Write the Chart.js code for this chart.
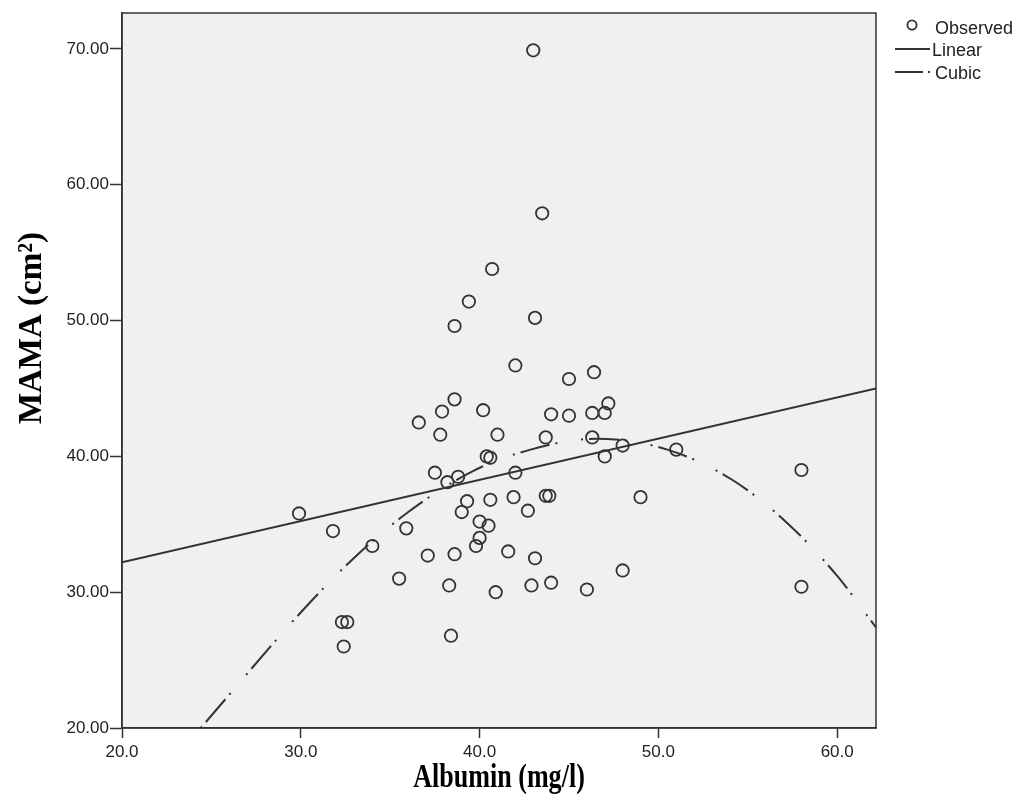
<!DOCTYPE html>
<html>
<head>
<meta charset="utf-8">
<title>MAMA vs Albumin</title>
<script src="https://cdn.jsdelivr.net/npm/chart.js@4/dist/chart.umd.min.js"></script>
<style>
  html, body { margin: 0; padding: 0; background: #ffffff; }
  #wrap { width: 1027px; height: 808px; }
</style>
</head>
<body>
<div id="wrap"><canvas id="chart" width="1027" height="808"></canvas></div>
<script>
// Observed albumin (mg/l) and MAMA (cm²) values
const albumin = [
  43.0, 43.5, 40.7, 39.4, 38.6, 43.1, 42.0, 45.0, 46.4, 47.2,
  47.0, 46.3, 45.0, 44.0, 40.2, 38.6, 37.9, 36.6, 37.8, 41.0,
  43.7, 46.3, 51.0, 48.0, 47.0, 40.4, 40.6, 37.5, 38.8, 38.2,
  43.7, 43.9, 40.6, 41.9, 42.0, 49.0, 39.3, 39.0, 42.7, 40.0,
  40.5, 40.0, 39.8, 29.9, 31.8, 35.9, 34.0, 37.1, 38.6, 41.6,
  43.1, 35.5, 38.3, 40.9, 42.9, 44.0, 46.0, 48.0, 58.0, 58.0,
  32.3, 32.6, 32.4, 38.4
];
const mama = [
  69.9, 57.9, 53.8, 51.4, 49.6, 50.2, 46.7, 45.7, 46.2, 43.9,
  43.2, 43.2, 43.0, 43.1, 43.4, 44.2, 43.3, 42.5, 41.6, 41.6,
  41.4, 41.4, 40.5, 40.8, 40.0, 40.0, 39.9, 38.8, 38.5, 38.1,
  37.1, 37.1, 36.8, 37.0, 38.8, 37.0, 36.7, 35.9, 36.0, 35.2,
  34.9, 34.0, 33.4, 35.8, 34.5, 34.7, 33.4, 32.7, 32.8, 33.0,
  32.5, 31.0, 30.5, 30.0, 30.5, 30.7, 30.2, 31.6, 39.0, 30.4,
  27.8, 27.8, 26.0, 26.8
];

// Linear fit, read at both ends of the x range
const linearX = [20.0, 62.17];
const linearY = [32.2, 45.0];

// Cubic fit
const cubicX = [24.4, 30.2, 32.8, 35.9, 39.6, 42.85, 46.5, 50.5, 54.1, 57.2, 60.0, 62.17];
const cubicY = [20.0, 28.8, 32.3, 35.8, 38.9, 40.5, 41.3, 40.5, 38.3, 35.1, 31.2, 27.4];

// Axis ranges and tick labels
const xRange = [20, 62.17];
const yRange = [20, 72.65];
const xTickValues = [20, 30, 40, 50, 60];
const yTickValues = [20, 30, 40, 50, 60, 70];

const legendLabels = ['Observed', 'Linear', 'Cubic'];
const xTitle = 'Albumin (mg/l)';
const yTitle = 'MAMA (cm\u00B2)';

const ink = '#333333';
const sansFamily = '"Liberation Sans", Arial, sans-serif';
const pair = (xs, ys) => xs.map((x, i) => ({ x: x, y: ys[i] }));
const cubicDash = [2, 6, 30, 6, 2, 24];

const frame = {
  id: 'frame',
  beforeDraw(chart) {
    const { ctx, chartArea: a } = chart;
    ctx.save();
    ctx.fillStyle = '#f0f0f0';
    ctx.fillRect(a.left, a.top, a.right - a.left, a.bottom - a.top);
    ctx.restore();
  },
  afterDraw(chart) {
    const { ctx, chartArea: a } = chart;
    ctx.save();
    // box around the plot
    ctx.strokeStyle = ink;
    ctx.lineWidth = 1.5;
    ctx.strokeRect(a.left, a.top, a.right - a.left, a.bottom - a.top);

    // legend
    ctx.font = '18px ' + sansFamily;
    ctx.fillStyle = '#222';
    ctx.textBaseline = 'alphabetic';
    ctx.textAlign = 'left';
    ctx.lineWidth = 1.8;
    ctx.strokeStyle = '#333';
    ctx.beginPath();
    ctx.arc(912, 25, 4.6, 0, Math.PI * 2);
    ctx.stroke();
    ctx.fillText(legendLabels[0], 935, 34);

    ctx.strokeStyle = ink;
    ctx.lineWidth = 2;
    ctx.beginPath();
    ctx.moveTo(895, 49);
    ctx.lineTo(930, 49);
    ctx.stroke();
    ctx.fillText(legendLabels[1], 932, 56);

    ctx.setLineDash([28, 5, 2, 40]);
    ctx.beginPath();
    ctx.moveTo(895, 72);
    ctx.lineTo(932, 72);
    ctx.stroke();
    ctx.setLineDash([]);
    ctx.fillText(legendLabels[2], 935, 79);

    // axis titles
    ctx.fillStyle = '#000';
    ctx.font = 'bold 33px "Liberation Serif", "Times New Roman", serif';
    ctx.textAlign = 'center';
    ctx.textBaseline = 'alphabetic';
    ctx.save();
    ctx.translate((a.left + a.right) / 2, 787);
    ctx.scale(0.79, 1);
    ctx.fillText(xTitle, 0, 0);
    ctx.restore();

    ctx.save();
    ctx.translate(41, 328);
    ctx.rotate(-Math.PI / 2);
    ctx.fillText(yTitle, 0, 0);
    ctx.restore();
    ctx.restore();
  }
};

const keepTicks = (values) => (scale) => {
  scale.ticks = values.map(v => ({ value: v }));
};

new Chart(document.getElementById('chart'), {
  type: 'scatter',
  data: {
    datasets: [
      {
        label: legendLabels[0],
        data: pair(albumin, mama),
        pointStyle: 'circle',
        pointRadius: 6.2,
        pointHoverRadius: 6.2,
        backgroundColor: 'rgba(0,0,0,0)',
        borderColor: '#333',
        borderWidth: 1.8,
        showLine: false
      },
      {
        label: legendLabels[1],
        data: pair(linearX, linearY),
        showLine: true,
        borderColor: ink,
        borderWidth: 2,
        pointRadius: 0,
        fill: false
      },
      {
        label: legendLabels[2],
        data: pair(cubicX, cubicY),
        showLine: true,
        borderColor: ink,
        borderWidth: 2,
        borderDash: cubicDash,
        cubicInterpolationMode: 'monotone',
        pointRadius: 0,
        fill: false
      }
    ]
  },
  options: {
    responsive: false,
    animation: false,
    events: [],
    layout: { padding: { left: 0, top: 13, right: 151, bottom: 0 } },
    plugins: { legend: { display: false }, tooltip: { enabled: false } },
    scales: {
      x: {
        type: 'linear',
        min: xRange[0],
        max: xRange[1],
        afterBuildTicks: keepTicks(xTickValues),
        afterFit(scale) { scale.height = 80; },
        border: { display: true, color: ink, width: 1.5 },
        grid: { drawOnChartArea: false, drawTicks: true, tickLength: 10, tickColor: ink, tickWidth: 1.5 },
        ticks: {
          font: { family: sansFamily, size: 17 },
          color: '#222',
          padding: 4,
          maxRotation: 0,
          autoSkip: false,
          callback: (v) => Number(v).toFixed(1)
        }
      },
      y: {
        type: 'linear',
        min: yRange[0],
        max: yRange[1],
        afterBuildTicks: keepTicks(yTickValues),
        afterFit(scale) { scale.width = 122; },
        border: { display: true, color: ink, width: 1.5 },
        grid: { drawOnChartArea: false, drawTicks: true, tickLength: 12, tickColor: ink, tickWidth: 1.5 },
        ticks: {
          font: { family: sansFamily, size: 17 },
          color: '#222',
          padding: 1,
          autoSkip: false,
          callback: (v) => Number(v).toFixed(2)
        }
      }
    }
  },
  plugins: [frame]
});
</script>
</body>
</html>
